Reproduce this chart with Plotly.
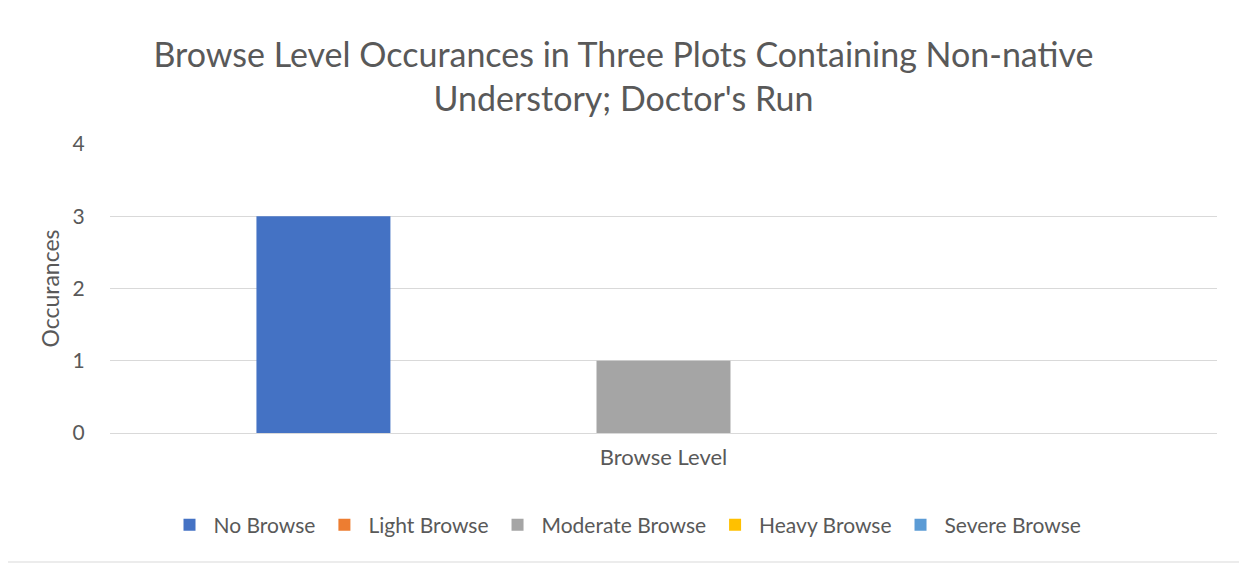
import plotly.graph_objects as go

categories = ["Browse Level"]
series_names = ["No Browse", "Light Browse", "Moderate Browse", "Heavy Browse", "Severe Browse"]
series_values = [[3], [0], [1], [0], [0]]
colors = ["#4472C4", "#ED7D31", "#A5A5A5", "#FFC000", "#5B9BD5"]
y_ticks = [0, 1, 2, 3, 4]

OFF = 8  # page body margin
W, H = 1247 - OFF, 564 - OFF
# target plot area in page pixels: x 110..1217, y 144..433
ML, MR, MT, MB = 110 - OFF, 1247 - 1217, 144 - OFF, 564 - 433
FONT = "Lato, 'Open Sans', sans-serif"
TXT = "#595959"

fig = go.Figure()
for name, vals, col in zip(series_names, series_values, colors):
    fig.add_trace(go.Bar(x=categories, y=vals, name=name, marker=dict(color=col, line=dict(width=0))))

pw = W - ML - MR
ph = H - MT - MB
def px_x(x):
    return (x - OFF - ML) / pw
def px_y(y):
    return (H - MB - (y - OFF)) / ph

fig.update_layout(
    width=W, height=H,
    margin=dict(l=ML, r=MR, t=MT, b=MB),
    paper_bgcolor="white", plot_bgcolor="white",
    barmode="group", bargap=0.232, bargroupgap=0.212,
    font=dict(family=FONT, color=TXT, size=20),
    title=dict(text="Browse Level Occurances in Three Plots Containing Non-native<br>Understory; Doctor's Run",
               x=(623.5 - OFF) / W, xref="container", xanchor="center",
               y=1 - (67 - OFF) / H, yref="container", yanchor="middle",
               font=dict(size=34, color=TXT, family=FONT)),
    legend=dict(orientation="h", x=px_x(626), xanchor="center", y=px_y(525), yanchor="middle",
                font=dict(size=21, color=TXT), itemwidth=38, traceorder="normal"),
    xaxis=dict(showgrid=False, showline=True, linecolor="#D9D9D9", linewidth=1,
               tickfont=dict(size=22, color=TXT), ticks="outside", ticklen=5, tickcolor="rgba(0,0,0,0)"),
    yaxis=dict(range=[0, 4], tickvals=y_ticks, showgrid=True, gridcolor="#D9D9D9", gridwidth=1,
               zeroline=False, showline=False, tickfont=dict(size=21, color=TXT),
               ticks="outside", ticklen=20, tickcolor="rgba(0,0,0,0)",
               title=dict(text="Occurances", font=dict(size=23, color=TXT), standoff=6)),
    shapes=[dict(type="rect", xref="paper", yref="paper",
                 x0=px_x(1), x1=px_x(1245), y0=px_y(562), y1=px_y(1),
                 line=dict(color="#D9D9D9", width=1), fillcolor="rgba(0,0,0,0)", layer="below")],
)

fig.write_html("out.html")
